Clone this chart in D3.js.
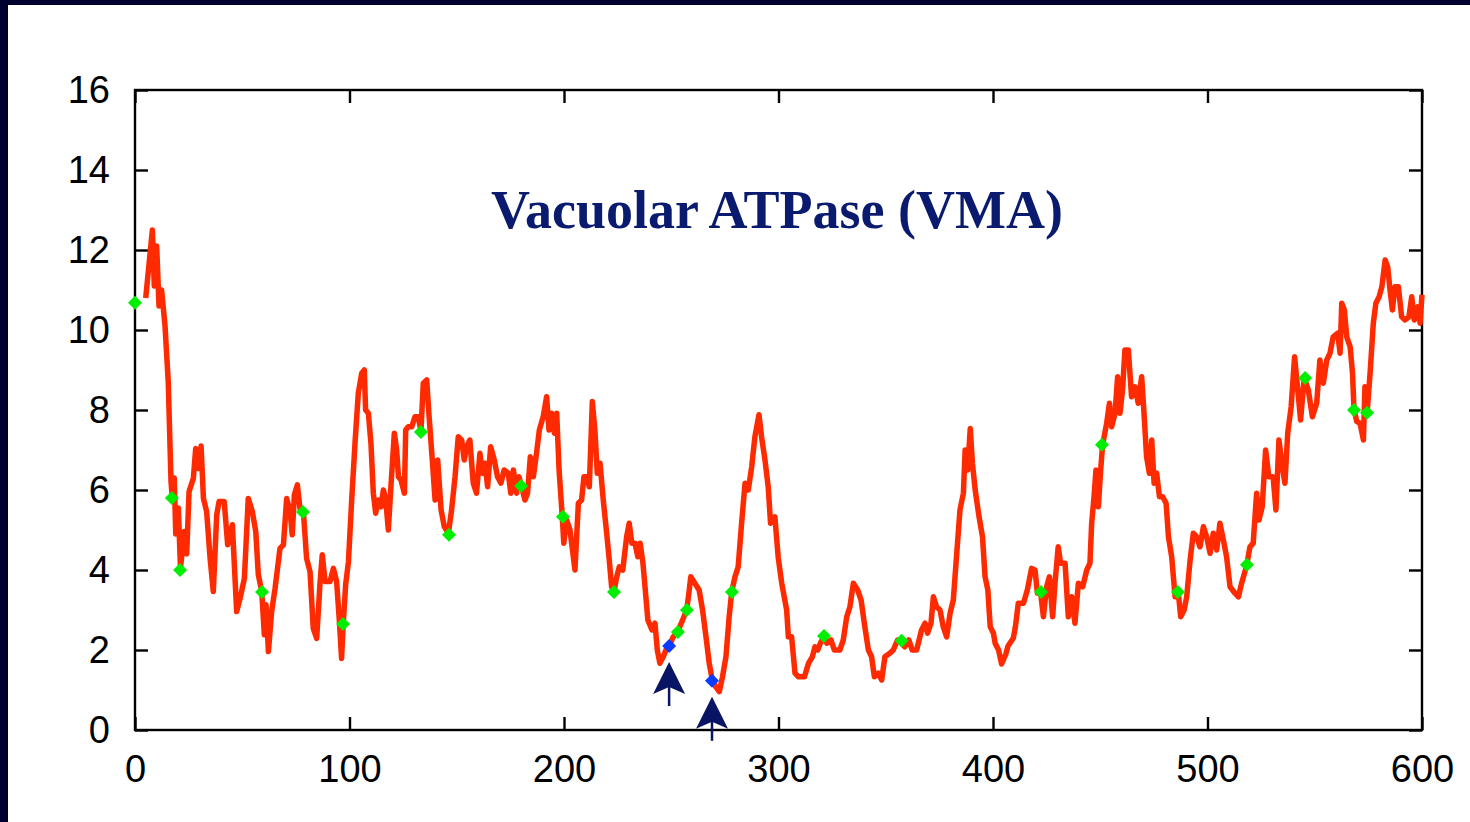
<!DOCTYPE html>
<html>
<head>
<meta charset="utf-8">
<script src="https://cdn.jsdelivr.net/npm/d3@7"></script>
<style>
  html, body { margin: 0; padding: 0; background: #000030; }
  svg { display: block; }
</style>
</head>
<body>
<svg id="chart" width="1470" height="822"></svg>
<script>
// chart text + ticks
var chartTitle = "Vacuolar ATPase (VMA)";
var xTicks = [0, 100, 200, 300, 400, 500, 600];
var yTicks = [0, 2, 4, 6, 8, 10, 12, 14, 16];

// profile: [residue, value]
var profile = [
  [5,10.8],[8.1,12.5],[9,11.1],[10.1,12.1],[11.2,10.6],[12.4,11.0],[14,10.1],[15.5,8.7],
  [16.8,6.2],[17.4,5.8],[18.3,6.3],[19,4.9],[20.2,5.55],[21.2,4.05],[23,4.96],[24.1,4.4],
  [25.2,5.96],[27.2,6.29],[28.3,7.04],[29.5,6.54],[30.8,7.1],[31.9,5.79],[33.4,5.46],[35,4.3],
  [36.5,3.46],[38.1,5.38],[39.2,5.71],[41.6,5.71],[43.2,4.63],[45.4,5.13],[47.4,2.96],[49,3.29],
  [51,3.79],[52.8,5.79],[54.7,5.46],[56.3,4.96],[57.5,3.88],[59.1,3.46],[60.3,2.38],[61.1,3.13],
  [62.2,1.96],[63.7,2.96],[65.3,3.54],[67.6,4.54],[69.2,4.63],[70.7,5.79],[72.3,5.46],[73.3,4.88],
  [74.3,5.88],[75.7,6.13],[76.9,5.54],[78.5,5.46],[80,4.29],[81.6,3.96],[83.1,2.54],[84.7,2.29],
  [86.2,3.63],[87.3,4.38],[88.6,3.71],[90.9,3.71],[92.5,4.04],[94,3.71],[95.3,2.71],[96.3,1.79],
  [97.1,2.67],[98.2,3.63],[99.5,4.2],[101,5.73],[102.6,7.2],[104.1,8.42],[105.7,8.92],[106.9,9.0],
  [107.5,8.0],[108.8,7.92],[110,7.17],[111.1,5.92],[112.2,5.42],[113.4,5.75],[114.7,5.58],[115.8,6.0],
  [116.9,5.75],[118.1,5.0],[119.3,6.08],[120.9,7.42],[122,7.0],[122.8,6.33],[124,6.25],[125.6,5.92],
  [126.2,7.5],[127.4,7.58],[129,7.58],[130.5,7.83],[132.1,7.83],[133.3,7.46],[134.4,8.67],[136,8.75],
  [137,7.92],[138.6,6.75],[139.9,5.75],[141.1,6.75],[142.7,5.5],[144.2,5.08],[146.1,4.92],[147.6,5.5],
  [149.2,6.33],[150.7,7.33],[152.3,7.25],[153.5,6.75],[154.6,7.08],[156.1,7.25],[157.7,6.17],[159.2,5.92],
  [160.8,6.92],[161.9,6.42],[163.1,6.67],[164.4,6.08],[165.8,7.08],[167.5,6.75],[169,6.33],[170.6,6.17],
  [172.1,6.5],[174,6.42],[175.2,5.92],[176.4,6.5],[177.9,5.92],[179,6.33],[180.2,6.1],[181.8,5.75],
  [183,5.92],[184.3,6.83],[185.7,6.33],[187.2,6.92],[188.5,7.5],[190.3,7.83],[191.9,8.33],[193,7.5],
  [194.2,7.92],[195.5,7.42],[196.6,7.92],[197.7,6.5],[199.2,5.33],[199.9,4.67],[201.2,5.25],[202.8,5.0],
  [205.1,4.0],[206.7,5.67],[208.2,5.75],[209.3,6.33],[210.6,6.33],[211.8,6.08],[213.2,8.21],[214.4,7.5],
  [215.5,6.42],[216.8,6.67],[218.3,5.75],[219.9,4.92],[221.1,4.25],[222.2,3.58],[223.3,3.46],[224.6,3.83],
  [225.8,4.08],[227.4,4.0],[229.2,4.83],[230.4,5.17],[231.6,4.67],[233.1,4.67],[234.4,4.33],[235.5,4.67],
  [236.8,4.17],[237.9,3.5],[239.1,2.75],[241,2.5],[242.4,2.67],[243.5,2.0],[244.7,1.67],[246.3,1.83],
  [247.5,2.0],[249.1,2.1],[250.9,2.33],[252.9,2.44],[255.3,2.75],[257.2,3.0],[258.4,3.5],[259.1,3.83],
  [261,3.67],[263,3.5],[264.6,3.0],[266.2,2.33],[267.7,1.67],[269.2,1.23],[270.8,1.08],[272.4,0.96],
  [273.9,1.33],[275.5,1.83],[277,2.83],[278.2,3.46],[279.7,3.83],[281.2,4.08],[282.8,5.17],[284.4,6.17],
  [285.9,6.0],[287.5,6.58],[289,7.33],[290.9,7.88],[292.1,7.33],[293.7,6.75],[295.2,6.08],[296.3,5.17],
  [298.3,5.33],[299.9,4.3],[301.5,3.67],[303.8,3.0],[304.6,2.33],[306.1,2.33],[307.7,1.42],[309.3,1.33],
  [312.1,1.33],[314,1.67],[315.8,1.83],[317,2.08],[318.3,2.0],[319.5,2.17],[321.2,2.33],[322.5,2.17],
  [324.5,2.25],[326,2.0],[328.6,2.0],[330.2,2.25],[331.8,2.83],[333.3,3.08],[334.9,3.67],[336.9,3.5],
  [338.5,3.25],[340,2.67],[341.9,2.0],[343.4,1.83],[344.7,1.33],[346.5,1.42],[348.1,1.25],[349.6,1.83],
  [351.9,1.92],[353.5,2.0],[355.5,2.25],[357.4,2.17],[358.9,2.08],[360.8,2.25],[362.3,2.0],[364.4,2.0],
  [366.7,2.5],[368.3,2.67],[369.5,2.42],[371.1,2.67],[372.2,3.33],[373.7,3.08],[375.3,3.0],[376.8,2.58],
  [378.4,2.33],[380,2.92],[381.5,3.25],[383.1,4.42],[384.6,5.5],[386.2,5.92],[387,7.0],[388.2,6.5],
  [389.4,7.54],[390.4,6.67],[391.7,6.0],[393.5,5.33],[395.1,4.83],[396.3,3.83],[397.6,3.5],[398.7,2.58],
  [400.2,2.42],[401,2.17],[402.6,2.0],[404,1.65],[406,1.9],[407,2.1],[409.5,2.3],[410.5,2.6],
  [411.8,3.17],[414.2,3.17],[416,3.5],[418,4.04],[419.6,4.0],[420.7,3.42],[422.2,3.43],[423.5,2.83],
  [425,3.58],[426.3,3.83],[427.8,2.83],[428.9,3.67],[430.4,4.58],[431.5,4.17],[433.6,4.17],[435.1,2.83],
  [436.7,3.33],[438.2,2.67],[439.8,3.67],[441.8,3.58],[443.7,4.0],[445.2,4.17],[446,5.17],[447.1,5.83],
  [448,6.5],[449.1,5.58],[450.2,6.5],[451.1,7.13],[453,7.67],[454.3,8.17],[455.3,7.58],[456.9,7.92],
  [458.1,8.83],[459.2,7.92],[460.4,8.5],[461.5,9.5],[463.1,9.5],[464.6,8.33],[466.2,8.58],[467.7,8.17],
  [469.3,8.83],[470.4,7.92],[471.6,6.83],[472.9,6.42],[474,7.25],[475.1,6.17],[476.3,6.42],[477.6,5.83],
  [479.1,5.83],[480.7,5.67],[481.8,4.83],[483.3,4.33],[484.9,3.33],[486.4,3.43],[487.5,2.83],[489.1,3.0],
  [490.3,3.33],[491.9,4.25],[493.4,4.92],[495,4.83],[496.5,4.58],[498.1,5.08],[499.6,4.83],[501.2,4.42],
  [502.7,4.92],[504.3,4.5],[505.8,5.17],[507.4,4.75],[508.9,4.33],[510.5,3.58],[512.8,3.42],[514.4,3.33],
  [515.9,3.67],[518.2,4.1],[519.8,4.58],[521.3,4.67],[522.9,5.92],[524,5.25],[525.5,5.58],[527.1,7.0],
  [528.6,6.33],[530.6,6.33],[531.9,5.5],[533.3,7.25],[534.9,6.58],[536.1,6.17],[537.4,7.42],[539,8.08],
  [540.6,9.33],[542.1,8.5],[543.4,7.75],[545.1,8.81],[547,8.5],[548.9,7.83],[550.9,8.17],[552.4,9.25],
  [554,8.67],[555.6,9.25],[557.1,9.42],[558.6,9.83],[560.7,9.92],[561.8,9.42],[562.6,10.67],[563.8,10.5],
  [564.9,9.83],[566.5,9.58],[567.6,8.92],[568.3,8.02],[569.6,7.71],[571.1,7.67],[572.7,7.25],[573.4,8.58],
  [574.4,7.92],[575.8,8.92],[577.3,10.17],[578.5,10.67],[580,10.83],[581.3,11.08],[582.8,11.75],[584,11.58],
  [585.1,11.0],[586.2,10.5],[587.4,11.08],[589,11.08],[590.5,10.33],[592.1,10.25],[593.9,10.33],[595.2,10.83],
  [596.4,10.25],[598,10.58],[599.1,10.17],[600,10.88]
];

// green diamonds
var greenPos = [0, 17.2, 21, 59.2, 78.3, 97, 133.3, 146.4, 180, 199.5, 223.3, 253.1, 257.3,
                278.3, 321.2, 357.4, 422.4, 450.8, 486.2, 518.4, 545.5, 568.3, 574.4];
var greenVal = [10.68, 5.8, 4.0, 3.45, 5.45, 2.65, 7.45, 4.88, 6.1, 5.33, 3.45, 2.45, 3.0,
                3.45, 2.35, 2.23, 3.45, 7.13, 3.45, 4.13, 8.8, 8.0, 7.93];
// blue diamonds (arrowed)
var bluePos = [249, 269];
var blueVal = [2.1, 1.23];

(function() {
    var svg = d3.select("#chart");
    var W = 1470, H = 822;
    var plotL = 135, plotR = 1422, plotT = 90, plotB = 730;

    // navy frame on left / top
    svg.append("rect").attr("width", W).attr("height", H).attr("fill", "#000030");
    svg.append("rect").attr("x", 8).attr("y", 5).attr("width", W - 8).attr("height", H - 5).attr("fill", "#ffffff");

    var x = d3.scaleLinear().domain([0, 600]).range([plotL, plotR]);
    var y = d3.scaleLinear().domain([0, 16]).range([plotB, plotT]);

    var font = "'Liberation Sans', Arial, sans-serif";

    function styleAxis(g) {
        g.select(".domain").remove();
        g.selectAll(".tick line").attr("stroke", "#000").attr("stroke-width", 2.4);
        g.selectAll(".tick text").attr("fill", "#000").style("font-family", font).style("font-size", "38px");
    }

    svg.append("g").attr("transform", "translate(0," + plotB + ")")
        .call(d3.axisBottom(x).tickValues(xTicks).tickSizeInner(-13).tickSizeOuter(0).tickPadding(25))
        .call(styleAxis);
    svg.append("g").attr("transform", "translate(0," + plotT + ")")
        .call(d3.axisTop(x).tickValues(xTicks).tickSizeInner(-13).tickSizeOuter(0).tickFormat(""))
        .call(styleAxis);
    svg.append("g").attr("transform", "translate(" + plotL + ",0)")
        .call(d3.axisLeft(y).tickValues(yTicks).tickSizeInner(-13).tickSizeOuter(0).tickPadding(25))
        .call(styleAxis);
    svg.append("g").attr("transform", "translate(" + plotR + ",0)")
        .call(d3.axisRight(y).tickValues(yTicks).tickSizeInner(-13).tickSizeOuter(0).tickFormat(""))
        .call(styleAxis);

    // plot box
    svg.append("rect")
        .attr("x", plotL).attr("y", plotT)
        .attr("width", plotR - plotL).attr("height", plotB - plotT)
        .attr("fill", "none").attr("stroke", "#000").attr("stroke-width", 2.4);

    // title
    svg.append("text")
        .attr("x", 777).attr("y", 228)
        .attr("text-anchor", "middle")
        .attr("fill", "#0a1a6e")
        .style("font-family", "'Liberation Serif', 'Times New Roman', serif")
        .style("font-weight", "bold")
        .style("font-size", "54px")
        .text(chartTitle);

    // profile line
    var line = d3.line()
        .x(function(d) { return x(d[0]); })
        .y(function(d) { return y(d[1]); });

    svg.append("path")
        .datum(profile)
        .attr("d", line)
        .attr("fill", "none")
        .attr("stroke", "#ff2a00")
        .attr("stroke-width", 5.5)
        .attr("stroke-linejoin", "round");

    function diamond(cx, cy) {
        var r = 7;
        return "M" + cx + "," + (cy - r) + "L" + (cx + r) + "," + cy + "L" + cx + "," + (cy + r) + "L" + (cx - r) + "," + cy + "Z";
    }

    svg.append("g").selectAll("path")
        .data(greenPos)
        .enter().append("path")
        .attr("d", function(d, i) { return diamond(x(d), y(greenVal[i])); })
        .attr("fill", "#00ee00");

    svg.append("g").selectAll("path")
        .data(bluePos)
        .enter().append("path")
        .attr("d", function(d, i) { return diamond(x(d), y(blueVal[i])); })
        .attr("fill", "#0a3cff");

    // arrows under the blue diamonds
    var arrows = svg.append("g").selectAll("g")
        .data(bluePos)
        .enter().append("g")
        .attr("transform", function(d, i) {
            return "translate(" + x(d) + "," + (y(blueVal[i]) + 16) + ")";
        });
    arrows.append("line")
        .attr("x1", 0).attr("y1", 20).attr("x2", 0).attr("y2", 44)
        .attr("stroke", "#0a1464").attr("stroke-width", 2.5);
    arrows.append("path")
        .attr("d", "M0,0L16,32L0,25L-16,32Z")
        .attr("fill", "#0a1464");
})();
</script>
</body>
</html>
